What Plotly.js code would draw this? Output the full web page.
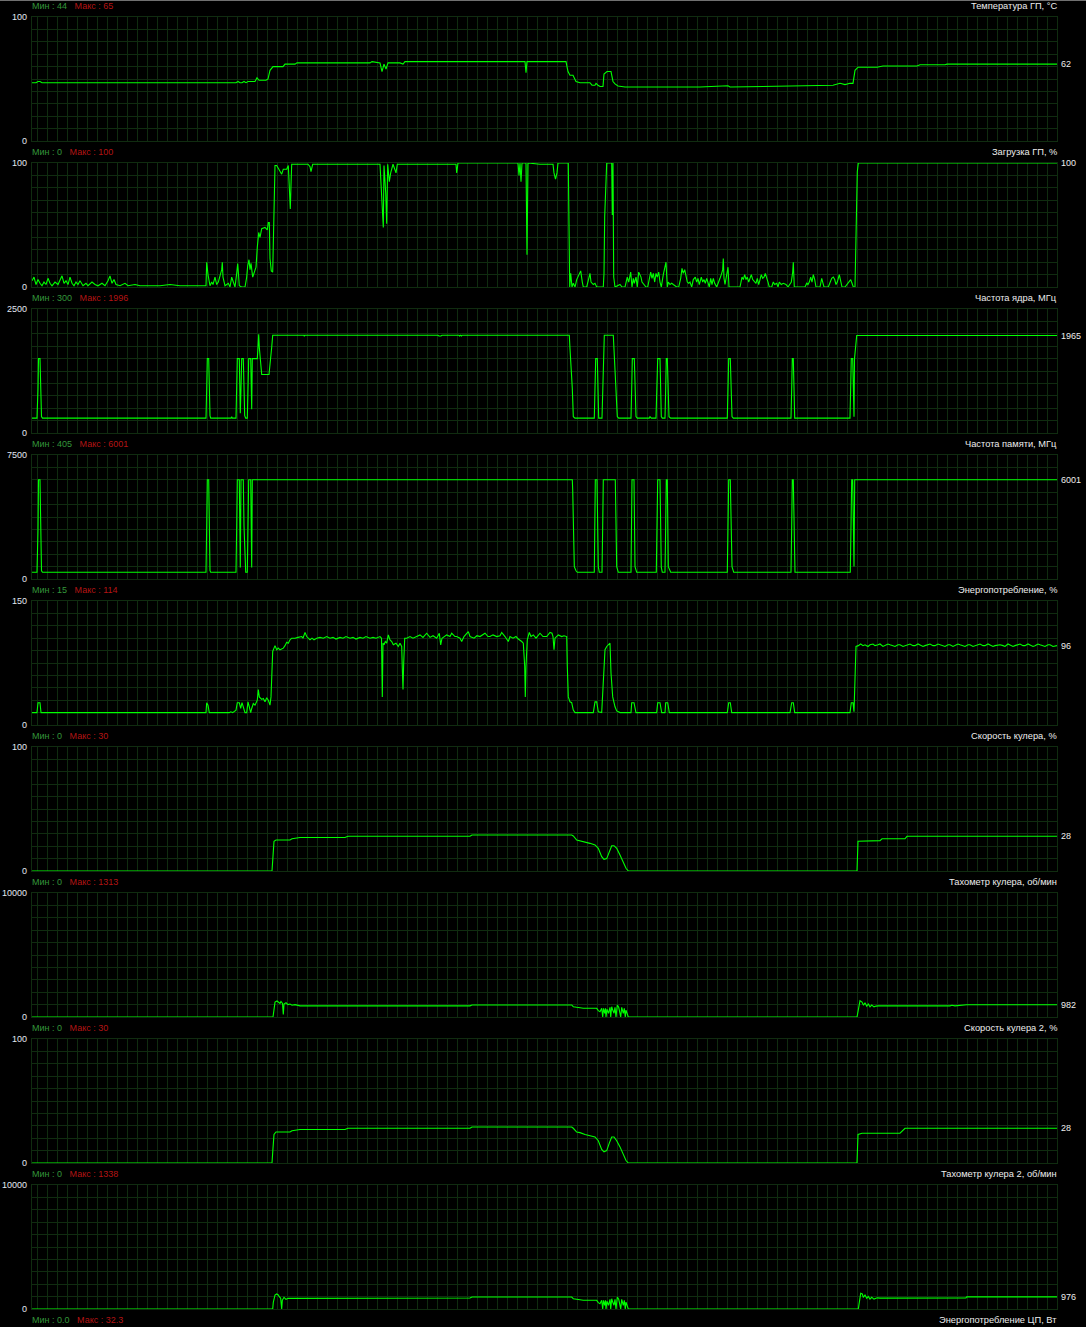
<!DOCTYPE html>
<html><head><meta charset="utf-8">
<script src="https://cdn.plot.ly/plotly-3.0.1.min.js"></script>
<style>html,body{margin:0;padding:0;background:#000;} #chart{width:1086px;height:1327px;}</style>
</head><body><div id="chart"></div>
<script>
// ---------- DATA (time sample, value) ----------
const panelTitles = ['Температура ГП, °C','Загрузка ГП, %','Частота ядра, МГц','Частота памяти, МГц','Энергопотребление, %','Скорость кулера, %','Тахометр кулера, об/мин','Скорость кулера 2, %','Тахометр кулера 2, об/мин'];
const minValues = ['44','0','300','405','15','0','0','0','0'];
const maxValues = ['65','100','1996','6001','114','30','1313','30','1338'];
const axisMax = [100,100,2500,7500,150,100,10000,100,10000];
const currentValues = [62,100,1965,6001,96,28,982,28,976];
const lastTitle = 'Энергопотребление ЦП, Вт';
const lastMin = '0.0';
const lastMax = '32.3';

const gpuTemp = [[32,47],[36,47],[38,48],[40,48],[42,47],[236,47],[238,48],[240,47],[242,47],[244,48],[246,47],[248,48],[255,48],[257,51],[259,49],[266,49],[268,50],[270,57],[273,60],[283,60],[285,62],[295,62],[297,63],[370,63],[372,64],[380,63],[382,56],[384,62],[386,58],[388,63],[400,63],[403,62],[405,64],[525,64],[526,55],[527,64],[566,64],[568,56],[570,53],[573,53],[576,48],[580,47],[590,47],[592,45],[595,45],[596,46.5],[598,45],[600,44],[603,44],[604,54],[607,56],[611,56],[613,48],[615,46],[618,44.4],[625,43.5],[700,43.5],[728,44.5],[730,43.5],[800,44.5],[833,45],[840,46.5],[845,45.5],[850,46.5],[853,46.5],[855,57],[858,59.5],[877,59.5],[883,60.5],[917,60.5],[920,61.5],[945,61.5],[947,62],[1057,62]];

const gpuLoad = [[32,5],[34,8],[36,2],[38,6],[40,3],[42,1],[44,4],[46,2],[48,7],[50,3],[52,1],[55,4],[58,2],[60,6],[62,9],[64,3],[66,5],[68,2],[70,8],[72,3],[74,1],[76,4],[78,2],[80,5],[83,1],[86,3],[88,1],[92,4],[95,2],[98,1],[102,3],[105,1],[108,5],[110,9],[112,3],[114,6],[116,2],[120,1],[125,3],[128,1],[135,2],[140,1],[150,1],[160,1],[170,2],[180,1],[206,1],
[206.7,20],[208,10],[210,1],[211.7,4],[213,2],[215,8],[216.7,2],[218.3,4],[221.7,14],[222.3,20],[223,8],[225,1],[228.3,3],[230,0],[231.7,8],[233.3,4],[235,0],[236.7,11],[237.7,19],[239.3,1],[241.7,0],[245,0],[246.7,8],[247.7,17],[249,22],[250,14],[251,19],[252.7,8],[254,11],[256,16],[257.3,32],[258.7,44],[260,40],[261.7,47],[265,48],[267.3,46],[268.3,52],[269.3,52],[270,23],[271.3,13],[272.7,12],[273.3,42],[274,85],[275,98],[276.7,98],[278,96],[280,94],[281.7,91],[283.3,95],[286.7,95],[288.3,98],[289.3,82],[290.3,63],[291,82],[291.7,99],[308,99],[310,97],[311,93],[312.7,99],[380,99],[381.7,72],[383.3,48],[384,98],[385.7,76],[386.7,51],[387.7,99],[389.3,85],[390.7,92],[393,99],[396,92],[397.3,99],[456,99],[456.7,92],[458,100],[518,100],[519,90],[520,100],[521,85],[522,100],[526,100],[527,26],[528,100],[540,99],[553,99],[554,92],[555.5,87],[557,92],[558,100],[568.3,100],[569,49],[569.7,0],[570.7,11],[572,0],[573.3,3],[575,0],[576.7,6],[579.3,10],[580.7,13],[582.3,4],[583.3,0],[586.7,0],[590,11],[591,4],[593.3,2],[595,3],[596.7,0],[603.3,0],[604,11],[604.7,57],[606,93],[606.7,100],[611.7,100],[612.3,58],[613,100],[613.7,8],[615,0],[620,2],[622,0],[625,0],
[627.3,8],[628.7,4],[630.7,12],[632,0],[633.3,7],[634.3,3],[636,8],[637.3,0],[638.7,12],[640,10],[641,8],[642,4],[644,2],[646,0],[647.7,0],[650.7,12],[652,7],[653.3,11],[654.7,4],[656,11],[657.3,8],[658.7,12],[660,4],[661.3,0],[663.3,10],[664.7,15],[666,20],[667.3,0],[668.3,4],[670,2],[671.7,3],[673.3,2],[676.7,0],[678.7,0],[680.7,7],[682,15],[683.3,11],[684.7,14],[686,7],[687.3,4],[688.7,3],[690,4],[691.7,0],[693.3,6],[695.3,8],[696.7,4],[698,7],[699.3,2],[701.3,8],[702.7,4],[704,6],[705.3,3],[706.7,7],[708,4],[709.3,0],[710.7,7],[712,2],[713.3,7],[714.7,3],[716.7,0],[718.3,3],[720,7],[721.7,11],[722.7,14],[723.3,23],[724,7],[725,2],[726.7,10],[728,16],[729,0],[731.7,0],[736.7,0],[740,0],[742,8],[743.3,6],[744.7,10],[746,6],[747.3,8],[748.7,4],[750,7],[751.3,10],[752.7,6],[754.7,4],[756,3],[757.3,7],[758.7,2],[760,6],[761.3,10],[762.7,7],[764,8],[765.3,11],[766.7,8],[768,4],[769.3,0],[771.7,0],[773.3,4],[774.7,2],[776.7,3],[778,0],[779.3,4],[781.3,2],[783.3,3],[786,2],[788,0],[790,3],[791.3,4],[792.7,12],[793.3,20],[794.3,0],[796.7,0],[805,0],[806.7,3],[808,2],[809.3,4],[810.7,8],[812,4],[813.3,10],[814.7,6],[816,0],[820,0],[821.7,7],[822.7,4],[824,0],[828.3,0],[830,4],[831.7,7],[833.3,8],[834.7,6],[836,2],[837.3,4],[839.3,10],[840.7,4],[842,0],[845,0],[846.7,2],[849.3,4],[850.7,6],[852,3],[853.3,0],[855,0],[856,53],[857.3,93],[858.3,100],[1057,100]];

const coreClock = [[32,300],[37,300],[38,900],[38.5,1500],[40,1500],[40.5,900],[41.5,330],[42.5,300],[206,300],[206.7,900],[207.3,1500],[208.7,1500],[209.3,900],[210,350],[210.7,300],[231,300],[231.7,330],[232.3,300],[236,300],[236.7,900],[237.3,1500],[239.3,1500],[240,900],[240.3,400],[241,900],[241.7,1500],[243.3,1500],[244,900],[244.7,350],[245.7,300],[247.3,300],[248,900],[248.7,1500],[250.7,1500],[251,900],[251.7,480],[252.3,1500],[257.3,1500],[258,1730],[258.7,1990],[259.3,1730],[260,1500],[261,1340],[261.7,1180],[269,1180],[270,1340],[271,1500],[271.7,1730],[272.7,1970],[304,1970],[304.3,1950],[305,1970],[438,1970],[439,1955],[441,1955],[442,1970],[459,1970],[459.5,1955],[460.5,1970],[461.5,1955],[462,1970],[467,1970],[467.5,1955],[468,1970],[477,1970],[478,1955],[479,1970],[540,1970],[541.7,1955],[545,1955],[546,1970],[569.3,1970],[570,1700],[570.7,1490],[572.3,900],[573.3,330],[575,300],[594.3,300],[595,900],[595.7,1500],[597.3,1500],[598,900],[598.7,300],[602,300],[602.7,900],[603.3,1700],[604.3,1970],[613.3,1970],[614,1700],[615,1500],[616,900],[617.3,330],[618.7,300],[631,300],[631.7,900],[632.3,1500],[634.3,1500],[635,900],[636,330],[637.3,300],[649.3,300],[650,330],[651.3,300],[656,300],[656.7,900],[657.7,1500],[660,1500],[660.7,900],[661.3,330],[662.3,300],[665,300],[665.7,900],[666.3,1500],[667.3,1500],[668,900],[669,330],[670.7,300],[727.3,300],[728,900],[728.7,1500],[730.3,1500],[731,900],[732,330],[733.3,300],[791,300],[791.7,900],[792.3,1500],[793.3,1500],[794,900],[794.7,300],[850,300],[850.7,900],[851.3,1500],[852.7,1500],[853.3,900],[854,330],[854.5,1500],[855.3,1700],[856.7,1965],[1057,1965]];

const memClock = [[32,405],[37,405],[38,3000],[38.5,6001],[40,6001],[40.5,3000],[41.5,500],[42.5,405],[206,405],[206.7,3200],[207.3,6001],[208.7,6001],[209.3,3200],[210,500],[210.7,405],[236,405],[236.7,3200],[237.3,6001],[239.3,6001],[240,3200],[240.3,700],[241,6001],[243.3,6001],[244,3200],[245,500],[245.7,405],[247.3,405],[248,3200],[248.7,6001],[250.7,6001],[251,3200],[251.7,700],[252.3,6001],[572.3,6001],[572.7,5400],[573.3,3000],[574.3,750],[576,500],[577.3,405],[594.3,405],[594.7,3000],[595.3,6001],[597,6001],[597.7,3200],[598.3,750],[599.3,405],[602,405],[602.7,3200],[603.3,6001],[615.3,6001],[616,3200],[616.7,750],[618.3,405],[631,405],[632,6001],[634,6001],[635,750],[636.7,405],[656.3,405],[657,3100],[657.7,6001],[660,6001],[660.7,3100],[661.3,700],[662.3,405],[665,405],[665.7,3200],[666.3,6001],[667.3,6001],[668.3,750],[670.7,405],[727.3,405],[728,3200],[728.7,6001],[730.3,6001],[731,3100],[732,750],[733.7,405],[791,405],[791.7,3200],[792.3,6001],[793.3,6001],[794,3100],[795,405],[850.3,405],[851,3100],[851.7,6001],[852.7,6001],[853.3,3300],[854,750],[854.7,6001],[1057,6001]];

const powerPct = [[32,15],[37,15],[38,27],[40,27],[41,15],[206,15],[206.7,27],[208,24],[209.3,15],[229.3,15],[230.7,16],[232.7,15],[236,18],[237.3,27],[239.3,27],[240.7,20],[242,27],[243.3,22],[245,15],[246.7,15],[248,28],[249.3,22],[250.7,15],[251.7,20],[253.3,26],[255,24],[257.3,30],[258.3,43],[259.3,34],[261.7,31],[263.3,32],[265,28],[266.7,33],[268.3,30],[270,24],[271,34],[271.7,54],[272.7,89],[274,93],[275,96],[276.7,91],[278.3,93],[280,91],[283.3,93],[285,96],[286.7,100],[288.3,99],[290,103],[291.7,105],[295,105],[298,106],[301.7,107],[303,105],[305,112],[306.7,107],[308.3,105],[310,103],[312,105],[314,103],[316.7,105],[320,106],[323.3,105],[326.7,107],[330,105],[333,106],[336,104],[340,106],[343,105],[346,107],[350,105],[353,106],[356,104],[360,106],[363,105],[366,107],[370,105],[373,106],[376,105],[380,107],[381.5,105],[382,71],[382.3,34],[383,99],[384,97],[385.3,101],[386.7,99],[388.3,109],[390,103],[391.7,101],[393.3,97],[396,99],[398.3,95],[400,99],[401.7,95],[402.3,69],[403,43],[403.7,75],[404.7,105],[406.7,105],[410,107],[413,105],[416,107],[420,109],[423,106],[426.7,111],[430,106],[433,108],[436.7,105],[439.3,111],[440.7,97],[442,105],[446.7,109],[450,107],[451.7,111],[455,107],[456.7,107],[460,105],[461.7,101],[464,107],[468.3,113],[470,107],[474,105],[477,108],[480,107],[483,109],[485,111],[488,107],[490,107],[493,109],[496.7,107],[500,108],[501.7,112],[505,107],[508.3,101],[510,107],[513,105],[516,107],[518.3,104],[521.7,101],[523.3,99],[524.7,71],[525.3,34],[526,71],[527.3,103],[529.3,112],[531,107],[533.3,109],[536,105],[540,111],[543,107],[546.7,107],[550,112],[552,111],[553,107],[554,91],[555,105],[558.3,109],[561.7,107],[564,108],[566.7,107],[567.3,71],[568.3,34],[570,28],[571.7,27],[573.3,18],[575,15],[593.3,15],[595,28],[596.7,28],[598.3,16],[601.7,15],[603.3,59],[605,91],[606.7,95],[608.3,97],[610,99],[611,63],[612.7,34],[615,22],[616.7,17],[620,15],[631,15],[631.7,27],[634,27],[636,15],[656.7,15],[657.7,27],[660,27],[661.7,15],[665,15],[665.7,27],[667.7,27],[669.3,15],[700,15],[727.3,15],[728.7,27],[730.3,27],[731.7,15],[790,15],[791.7,27],[793.3,27],[794.7,15],[850,15],[851.3,27],[853,27],[854,16],[855,56],[856,95],[858.3,96],[860.7,98],[863,96],[865,97],[868,95],[870,97],[873,98],[875,96],[878,97],[880,98],[883,95],[885,96],[888,98],[890,97],[893,96],[895,95],[898,97],[900,97],[903,95],[905,96],[908,97],[910,98],[913,96],[915,96],[918,98],[920,97],[923,95],[925,96],[928,97],[930,98],[933,96],[935,96],[938,98],[940,97],[943,96],[945,95],[948,97],[950,97],[953,95],[955,96],[958,98],[960,97],[963,96],[965,95],[968,97],[970,97],[973,95],[975,96],[978,97],[980,98],[983,96],[985,96],[988,98],[990,97],[993,95],[995,96],[998,97],[1000,97],[1003,96],[1005,95],[1008,98],[1010,97],[1013,95],[1015,96],[1018,97],[1020,98],[1023,96],[1025,96],[1028,98],[1030,97],[1033,95],[1035,96],[1038,98],[1040,97],[1043,96],[1045,95],[1048,97],[1050,97],[1053,95],[1057,96]];

const fanSpeed = [[32,0],[272,0],[273,12],[274,24],[276,25],[290,25],[292,26],[300,27],[345,27],[348,28],[470,28],[472,29],[571.7,29],[573.3,28.3],[576.7,25],[580,24.4],[585,23],[590,22.3],[595,21],[598.3,18.3],[601.7,11.6],[604,9.4],[606.7,10],[609.3,15.6],[611.7,20.4],[614,20.4],[616.7,18.3],[620,12.9],[623.3,7.5],[626,2.2],[628.3,0],[857,0],[858,24],[880,24.5],[882,26],[905,26],[907,28],[1057,28]];

const fanTach = [[32,0],[273,0],[274,600],[275,1200],[277,1290],[279,1150],[280,1100],[281,1250],[282.5,1100],[283.3,200],[284,1050],[286,1150],[288,1000],[290,1050],[292,950],[295,1000],[300,900],[470,900],[472,970],[571.7,970],[573.3,830],[576.7,780],[583.3,700],[596.7,700],[598.3,510],[600,430],[601.7,700],[602.7,0],[603.5,700],[604.7,300],[605.5,700],[606,0],[607,620],[608.5,300],[610,780],[610.7,0],[611.7,830],[612.7,560],[614,300],[615,780],[616,0],[617.3,968],[618.7,780],[620,300],[620.7,0],[621.7,780],[623.3,300],[624.3,700],[625.3,0],[626,560],[627.3,300],[628.3,0],[857,0],[858.5,700],[860,1313],[862,1200],[863.5,950],[865,1150],[866.7,870],[868.3,1050],[870,820],[871.7,960],[874,820],[876,880],[878,900],[950,900],[952,950],[955,900],[960,950],[963,920],[966.7,982],[1057,982]];

const fan2Speed = [[32,0],[272,0],[273,12],[274,23],[276,25],[290,25],[292,26],[300,27],[345,27],[348,28],[470,28],[472,29],[571.7,29],[573.3,28],[576.7,25],[580,24.5],[585,23],[590,22],[595,21],[598.3,18],[601.7,11],[604,9],[606.7,10],[609.3,16],[611.7,21],[614,21],[616.7,18],[620,13],[623.3,7],[626,2],[628.3,0],[857,0],[858,23],[862,24],[900,24],[903,26],[905,28],[1057,28]];

const fan2Tach = [[32,0],[272.7,0],[273.3,540],[275,1129],[276.7,1210],[278.3,1129],[279.3,995],[280.7,860],[281.7,0],[282.3,700],[284,940],[286,780],[288.3,860],[300,860],[302,890],[470,890],[472,968],[571.7,968],[573.3,830],[576.7,780],[583.3,700],[596.7,700],[598.3,510],[600,430],[601.7,700],[602.7,0],[603.5,700],[604.7,300],[605.5,700],[606,0],[607,620],[608.5,300],[610,780],[610.7,0],[611.7,830],[612.7,560],[614,300],[615,780],[616,0],[617.3,968],[618.7,780],[620,300],[620.7,0],[621.7,780],[623.3,300],[624.3,700],[625.3,0],[626,560],[627.3,300],[628.3,0],[858.3,0],[859.3,672],[860.7,1263],[862.3,1210],[863.3,940],[865,1130],[866.7,860],[868.3,1020],[870,800],[871.7,940],[874,800],[876,860],[877.3,900],[880,880],[950,880],[951.7,940],[953,880],[960,900],[963,940],[966,900],[966.7,976],[1057,976]];

// ---------- STYLE / LAYOUT ----------
const W = 1086, H = 1327;
const GRID = 'rgb(16,44,16)';
const LINE = '#00ff00';
const MINC = '#33963a';
const MAXC = '#b41414';
const TXT = '#ececec';
const AXT = '#e2e8f2';
const FONT = 'Liberation Sans, Arial, sans-serif';

const series = [gpuTemp, gpuLoad, coreClock, memClock, powerPct, fanSpeed, fanTach, fan2Speed, fan2Tach];
const traces = [];
const layout = {
  width: W, height: H, autosize: false,
  margin: {l: 32, r: 29, t: 0, b: 0, pad: 0},
  paper_bgcolor: '#000', plot_bgcolor: '#000', showlegend: false,
  font: {family: FONT, size: 9, color: TXT},
  annotations: [], shapes: []
};
const sp = '\u00a0\u00a0\u00a0';
function header(yref, yval, shift, mn, mx, title) {
  layout.annotations.push({xref: 'paper', yref: yref, x: 0, y: yval, xanchor: 'left', yanchor: 'middle', yshift: shift, xshift: -2, showarrow: false,
    text: '<span style="color:' + MINC + '">Мин : ' + mn + '</span>' + sp + '<span style="color:' + MAXC + '">Макс : ' + mx + '</span>'});
  layout.annotations.push({xref: 'paper', yref: yref, x: 1, y: yval, xanchor: 'right', yanchor: 'middle', yshift: shift, xshift: 2, showarrow: false,
    text: title, font: {color: TXT, size: 9.3}});
}
series.forEach((s, k) => {
  const n = k === 0 ? '' : String(k + 1);
  const yr = 'y' + n;
  traces.push({type: 'scatter', mode: 'lines', x: s.map(p => p[0]), y: s.map(p => p[1]),
    xaxis: 'x' + n, yaxis: yr, line: {color: LINE, width: 1.1}, hoverinfo: 'skip'});
  const top = 17 + 146 * k, bot = 141 + 146 * k;
  layout['xaxis' + n] = {domain: [0, 1], range: [32, 1057], anchor: yr, showticklabels: false, ticks: '',
    showgrid: true, gridcolor: GRID, gridwidth: 1, tick0: 37, dtick: 10, zeroline: false,
    showline: true, linecolor: GRID, linewidth: 1, mirror: true, fixedrange: true};
  layout['yaxis' + n] = {domain: [1 - bot / H, 1 - top / H], range: [0, axisMax[k]], anchor: 'x' + n,
    showticklabels: false, ticks: '', showgrid: true, gridcolor: GRID, gridwidth: 1, tick0: 0, dtick: axisMax[k] / 10,
    zeroline: false, showline: true, linecolor: GRID, linewidth: 1, mirror: true, fixedrange: true};
  header(yr, axisMax[k], 11, minValues[k], maxValues[k], panelTitles[k]);
  layout.annotations.push({xref: 'paper', yref: yr, x: 0, y: axisMax[k], xanchor: 'right', yanchor: 'middle', xshift: -3, showarrow: false, text: String(axisMax[k]), font: {color: AXT}});
  layout.annotations.push({xref: 'paper', yref: yr, x: 0, y: 0, xanchor: 'right', yanchor: 'middle', xshift: -3, showarrow: false, text: '0', font: {color: AXT}});
  layout.annotations.push({xref: 'paper', yref: yr, x: 1, y: currentValues[k], xanchor: 'left', yanchor: 'middle', xshift: 2, showarrow: false, text: String(currentValues[k]), font: {color: TXT}});
});
header('y9', 0, -11, lastMin, lastMax, lastTitle);
layout.shapes.push({type: 'line', xref: 'paper', yref: 'paper', x0: -32 / 1025, x1: 1 + 29 / 1025, y0: 1, y1: 1, line: {color: '#707070', width: 2}});

Plotly.newPlot('chart', traces, layout, {staticPlot: true, displayModeBar: false});
</script></body></html>
